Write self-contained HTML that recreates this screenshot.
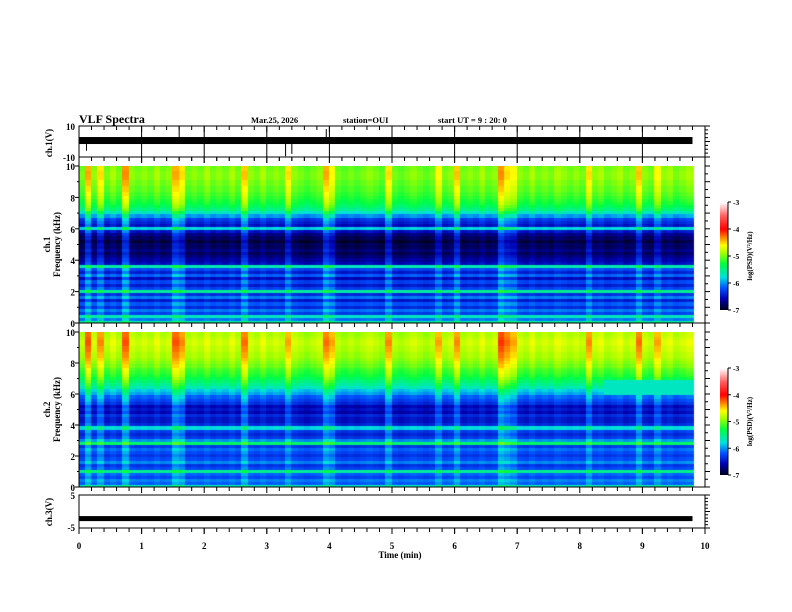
<!DOCTYPE html>
<html><head><meta charset="utf-8"><style>
body{margin:0;background:#fff;}
#wrap{position:relative;width:792px;height:612px;overflow:hidden;background:#fff;font-family:"Liberation Serif",serif;}
canvas{position:absolute;}
svg{position:absolute;left:0;top:0;}
</style></head><body>
<div id="wrap">
<canvas id="spec1" style="left:79px;top:166px" width="626" height="157"></canvas>
<canvas id="spec2" style="left:79px;top:332px" width="626" height="155"></canvas>
<canvas id="cb1" style="left:720px;top:202px" width="8" height="108"></canvas>
<canvas id="cb2" style="left:720px;top:368px" width="8" height="107"></canvas>
<svg id="svg" width="792" height="612"></svg>
</div>
<script>
// ---- data ----
const timeTicks=[0,1,2,3,4,5,6,7,8,9,10];
const freqTicks=[0,2,4,6,8,10];
const cbTicks=[-3,-4,-5,-6,-7];
// log PSD per 0.2 kHz row (0..10 kHz), ch1
const ch1Rows=[-5.5,-6.0,-5.6,-6.2,-6.0,-6.3,-6.1,-6.4,-6.0,-6.3,-5.5,-6.2,-6.4,-6.2,-6.5,-6.1,-6.4,-6.2,-5.6,-6.5,-6.6,-6.7,-6.8,-6.7,-6.8,-6.8,-6.9,-6.8,-6.7,-6.5,-5.8,-6.5,-6.4,-6.3,-6.0,-5.7,-5.5,-5.4,-5.3,-5.25,-5.2,-5.15,-5.1,-5.1,-5.05,-5.05,-5.0,-5.0,-5.0,-5.05];
const ch2Rows=[-5.6,-6.1,-6.0,-6.2,-6.1,-5.5,-6.2,-6.3,-6.0,-6.2,-6.3,-6.2,-6.1,-6.3,-5.4,-6.0,-6.3,-6.4,-6.3,-5.8,-6.4,-6.5,-6.5,-6.4,-6.6,-6.5,-6.6,-6.4,-6.3,-6.2,-6.0,-5.9,-5.7,-5.6,-5.5,-5.4,-5.3,-5.25,-5.2,-5.1,-5.05,-5.0,-4.95,-4.95,-4.9,-4.9,-4.85,-4.85,-4.9,-4.95];
// per 0.1 min column burst intensity (0..9.8 min)
const ch1Burst=[0.3,1.2,0.4,1.0,0.3,0.5,0.3,1.3,0.4,0.3,0.4,0.3,0.5,0.3,0.4,1.2,1.0,0.3,0.4,0.3,0.5,0.3,0.4,0.3,0.5,0.3,1.1,0.4,0.3,0.5,0.3,0.4,0.3,1.0,0.4,0.3,0.2,0.3,0.4,1.2,0.9,0.3,0.2,0.3,0.2,0.3,0.4,0.3,0.2,1.0,0.3,0.2,0.3,0.4,0.3,0.2,0.3,0.9,0.3,0.4,1.1,0.3,0.4,0.3,0.5,0.3,0.4,1.3,1.0,0.9,0.4,0.3,0.5,0.3,0.4,0.3,0.5,0.4,0.3,0.4,0.3,1.0,0.4,0.5,0.3,0.4,0.5,0.3,0.4,1.1,0.4,0.3,0.9,0.4,0.5,0.3,0.4,0.5];
const ch2Burst=[0.4,1.3,0.5,1.1,0.4,0.6,0.4,1.3,0.5,0.4,0.5,0.4,0.6,0.4,0.5,1.3,1.1,0.4,0.5,0.4,0.6,0.4,0.5,0.4,0.6,0.4,1.2,0.5,0.4,0.6,0.4,0.5,0.4,1.0,0.5,0.4,0.3,0.4,0.5,1.2,1.0,0.4,0.3,0.4,0.3,0.4,0.5,0.4,0.3,1.1,0.4,0.3,0.4,0.5,0.4,0.3,0.4,1.0,0.4,0.5,1.1,0.4,0.5,0.4,0.6,0.4,0.5,1.4,1.2,1.0,0.5,0.4,0.6,0.4,0.5,0.4,0.6,0.5,0.4,0.5,0.4,1.1,0.5,0.6,0.4,0.5,0.6,0.4,0.5,1.2,0.5,0.4,1.0,0.5,0.6,0.4,0.5,0.6];
const ch2BandStart=8.4, ch2BandValue=-5.7;
const ch1Level=0.3, ch3Level=-2.0;
const ch1Spikes=[[1.6,9.5],[3.3,-9.5],[3.4,-8],[3.95,8],[0.12,-6]];

// ---- axis functions ----
const X0=79,X1=705;
const xS=t=>X0+(X1-X0)*t/10;
const cmap=[[-7,[0,0,32]],[-6.6,[0,0,176]],[-6.2,[0,80,255]],[-5.8,[0,224,224]],[-5.3,[0,255,64]],[-4.9,[160,255,0]],[-4.6,[255,255,0]],[-4.3,[255,128,0]],[-4.0,[255,0,0]],[-3.5,[255,96,96]],[-3,[255,255,255]]];
function col(v){v=Math.max(-7,Math.min(-3,v));for(let i=1;i<cmap.length;i++){if(v<=cmap[i][0]){const a=cmap[i-1],b=cmap[i],f=(v-a[0])/(b[0]-a[0]);return 'rgb('+a[1].map((c,k)=>Math.round(c+(b[1][k]-c)*f)).join(',')+')';}}return '#fff';}
function drawSpec(id,rows,burst,band){
  const c=document.getElementById(id),g=c.getContext('2d'),H=c.height;
  const nR=rows.length;
  for(let i=0;i<burst.length;i++){
    const t=i*0.1,x0=xS(t)-X0,x1=xS(t+0.1)-X0;
    for(let r=0;r<nR;r++){
      let v=rows[r]+0.7*burst[i]*(0.4+0.6*r/nR)-0.2;
      if(band&&t>=ch2BandStart&&r>=30&&r<=34)v=ch2BandValue;
      g.fillStyle=col(v);
      const y0=H-(r+1)*H/nR,y1=H-r*H/nR;
      g.fillRect(Math.floor(x0),Math.floor(y0),Math.ceil(x1-x0)+1,Math.ceil(y1-y0)+1);
    }
  }
}
drawSpec('spec1',ch1Rows,ch1Burst,false);
drawSpec('spec2',ch2Rows,ch2Burst,true);
['cb1','cb2'].forEach(id=>{const c=document.getElementById(id),g=c.getContext('2d');for(let y=0;y<c.height;y++){g.fillStyle=col(-3-4*y/(c.height-1));g.fillRect(0,y,c.width,1);}});

// ---- svg ----
const svg=document.getElementById('svg');const NS='http://www.w3.org/2000/svg';
function el(tag,attrs,name,text){const e=document.createElementNS(NS,tag);for(const k in attrs)e.setAttribute(k,attrs[k]);


if(text!==undefined)e.textContent=text;svg.appendChild(e);return e;}
function line(x1,y1,x2,y2,name,w){return el('line',{x1,y1,x2,y2,stroke:'#000','stroke-width':w||1},name);}
function txt(x,y,s,name,size,anchor,extra){return el('text',Object.assign({x,y,'font-size':size||9,'font-weight':'bold','font-family':'Liberation Serif, serif','text-anchor':anchor||'start'},extra||{}),name,s);}
// header
txt(79,123,'VLF Spectra','title',12);
txt(251,123,'Mar.25, 2026','date-label',8.5);
txt(343,123,'station=OUI','station-label',8.5);
txt(438,123,'start  UT =   9 : 20: 0','start-time-label',8.5);
// ch1 box
const c1T=126,c1B=157,ch1Y=v=>c1B-(v+10)/20*(c1B-c1T);
el('rect',{x:X0,y:c1T,width:X1-X0,height:c1B-c1T,fill:'none',stroke:'#000'},'ch1-waveform-frame');
timeTicks.slice(1,10).forEach(t=>line(xS(t),c1T,xS(t),c1B,'ch1-gridline'));
el('rect',{x:X0,y:ch1Y(ch1Level)-4,width:xS(9.8)-X0,height:7,fill:'#000'},'ch1-waveform-band');
ch1Spikes.forEach(s=>line(xS(s[0]),ch1Y(ch1Level),xS(s[0]),ch1Y(s[1]),'ch1-spike'));
txt(75,130,'10','ch1-ytick',9,'end');txt(75,161,'-10','ch1-ytick',9,'end');
txt(52,143,'ch.1(V)','ch1-y-title',9,'middle',{transform:'rotate(-90 52 143)'});
// spectrogram frames
const sp=[[166,323,'ch1'],[332,487,'ch2']];
sp.forEach(([T,B,n])=>{
  el('rect',{x:X0,y:T-9,width:X1-X0,height:B-T+9,fill:'none',stroke:'#000'},n+'-spectrogram-frame');
  freqTicks.forEach(f=>{const y=B-(B-T)*f/10;line(X0-4,y,X0,y,n+'-freq-tick');txt(75,y+4,String(f),n+'-freq-label',9,'end');});
  for(let f=1;f<10;f+=2){const y=B-(B-T)*f/10;line(X0-2,y,X0,y,n+'-freq-minor-tick');}
  for(let i=0;i<=20;i++){const y=T+(B-T)*i/20;line(X1,y,X1+(i%2?3:5),y,n+'-right-tick');}
  txt(50,(T+B)/2,n==='ch1'?'ch.1':'ch.2',n+'-y-title',9,'middle',{transform:`rotate(-90 50 ${(T+B)/2})`});
  txt(60,(T+B)/2,'Frequency  (kHz)',n+'-y-title-2',9,'middle',{transform:`rotate(-90 60 ${(T+B)/2})`});
});
// ch3 box
const c3T=495,c3B=528,ch3Y=v=>c3B-(v+5)/10*(c3B-c3T);
el('rect',{x:X0,y:c3T,width:X1-X0,height:c3B-c3T,fill:'none',stroke:'#000'},'ch3-waveform-frame');
el('rect',{x:X0,y:ch3Y(ch3Level)-2,width:xS(9.8)-X0,height:5,fill:'#000'},'ch3-waveform-band');
txt(75,499,'5','ch3-ytick',9,'end');txt(75,531,'-5','ch3-ytick',9,'end');
txt(52,512,'ch.3(V)','ch3-y-title',9,'middle',{transform:'rotate(-90 52 512)'});
for(let i=0;i<=10;i++){const y=c3T+(c3B-c3T)*i/10;line(X1,y,X1+(i%5?3:5),y,'ch3-right-tick');}
for(let i=0;i<=8;i++){const y=c1T+(c1B-c1T)*i/8;line(X1,y,X1+(i%4?3:5),y,'ch1-right-tick');}
// time ticks on each horizontal border
[c1T,c1B,157,323,487,c3B].forEach(y=>{
  for(let i=1;i<50;i++){const x=xS(i*0.2);line(x,y,x,y+(i%5?4:6),'time-tick');}
});
[c3B].forEach(y=>{for(let i=0;i<=10;i++)line(xS(i),y,xS(i),y+6,'time-major-tick');});
timeTicks.forEach(t=>txt(xS(t),549,String(t),'time-label',9,'middle'));
txt(400,558,'Time  (min)','x-axis-title',9,'middle');
// colorbars
[[202,310,'ch1'],[368,475,'ch2']].forEach(([T,B,n])=>{
  line(728,T,728,B,n+'-colorbar-axis');
  cbTicks.forEach((v,i)=>{const y=T+(B-T)*i/4;line(728,y,731,y,n+'-colorbar-tick');txt(733,y+3,String(v),n+'-colorbar-label',7.5);});
  txt(752,(T+B)/2,'log(PSD)(V²/Hz)',n+'-colorbar-title',7,'middle',{transform:`rotate(-90 752 ${(T+B)/2})`});
});
</script>
</body></html>
